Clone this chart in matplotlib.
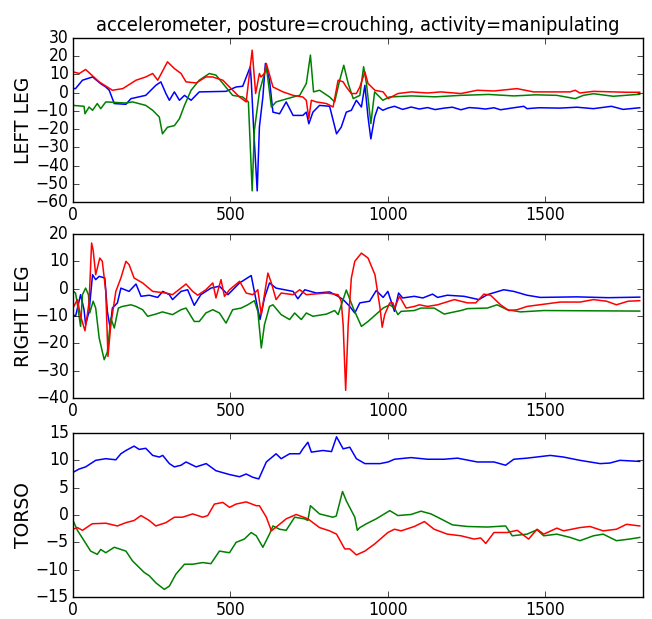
import matplotlib
matplotlib.use("Agg")
import matplotlib.pyplot as plt

# ---- LEFT LEG (x, y points) ----
ll_blue_x = [0, 8, 30, 62, 88, 104, 115, 131, 168, 184, 231, 263, 279, 295, 306, 322, 338, 354, 375, 401,
             486, 518, 539, 563, 566, 574, 585, 592, 603, 611, 624, 635, 656, 677, 699, 730, 741, 749, 762,
             783, 815, 837, 852, 868, 884, 900, 916, 927, 937, 946, 958, 969, 984, 1000, 1021, 1047, 1074,
             1100, 1126, 1150, 1179, 1205, 1232, 1258, 1284, 1310, 1337, 1358, 1400, 1432, 1442, 1480, 1547,
             1600, 1653, 1710, 1747, 1800]
ll_blue_y = [2.2, 2.2, 6.8, 8.6, 4.9, 3.1, 1.3, -6, -6.4, -3.3, -1.5, 4, 5.9, -0.5, -4.2, 0.4, -4.2, -1.5, -4.2, 0.4,
             0.7, 3.1, 3.5, 14.2, 6.8, -20.8, -53.9, -18.8, -2.4, 16, 6.8, -10.7, -11.6, -5.1, -12.5, -12.5, -10.7,
             -17.1, -10.7, -7, -7.5, -22.6, -18.9, -10.7, -9.7, -4.2, -7.9, 4, -13.4, -25.4, -13.4, -7.9, -9.7,
             -8.5, -7.5, -9.2, -7.9, -9.0, -8.2, -9.3, -8.5, -8.0, -9.4, -8.2, -8.5, -9.0, -8.3, -9.4, -8.3, -7.5,
             -8.8, -8.3, -8.5, -8.0, -8.8, -7.5, -9.2, -8.3]
ll_green_x = [0, 35, 38, 51, 62, 77, 88, 104, 168, 189, 231, 253, 274, 284, 300, 322, 338, 354, 375, 401, 433,
              454, 476, 507, 539, 557, 569, 576, 592, 614, 630, 645, 699, 720, 741, 754, 764, 783, 815, 831, 847,
              860, 874, 890, 911, 923, 932, 946, 958, 984, 1005, 1074, 1150, 1232, 1320, 1400, 1470, 1537, 1595,
              1621, 1653, 1716, 1800]
ll_green_y = [-7, -7.5, -11.6, -7.9, -9.7, -6, -8.8, -5.1, -5.7, -5.1, -7, -9.7, -13.4, -22.6, -19, -18.1, -14.3,
              -7, 1.3, 6.8, 10.5, 9.6, 5, -1.5, -2.4, -5.1, -53.9, -20.8, 0.4, 14.2, -7.9, -5.1, -2.4, -1.5, 5,
              20.6, 0.4, 1.3, -2.4, -5.1, 6.8, 15, 5, -3.3, -1.5, 14.2, 5, -17, 0.4, -4.2, -2.4, -1.8, -2.3, -1.5,
              -1.0, -1.8, -1.2, -1.5, -3.3, -1.5, -0.6, -2, -0.9]
ll_red_x = [0, 20, 40, 83, 125, 158, 200, 231, 253, 269, 300, 322, 343, 359, 391, 422, 443, 476, 497, 529, 550,
            569, 580, 592, 597, 608, 614, 635, 667, 699, 730, 741, 749, 757, 773, 805, 826, 842, 858, 868, 884,
            900, 911, 927, 937, 959, 985, 1001, 1032, 1074, 1126, 1168, 1232, 1284, 1337, 1410, 1463, 1579, 1595,
            1610, 1653, 1758, 1800]
ll_red_y = [11.4, 10.5, 12.7, 5.9, 1.3, 2.2, 6.8, 8.6, 10.5, 6.8, 16.9, 13.2, 10.5, 5.9, 5.3, 8.6, 8.6, 6.8, 3.1,
            -2.4, -5.1, 23.3, -0.5, 10.5, 8.6, 10.5, 16, 3.1, 0.4, -1.5, -2.4, -4.2, -14.3, -4.2, -5.1, -6, -7.9,
            6.8, 5.9, 3.1, -0.5, -0.5, 3.1, 11.4, 5, 1.3, 0.4, -3.3, -0.5, 0.4, -0.2, 0.4, -0.5, 1.3, 0.9, 2.2,
            0.4, 0.4, 1.3, -0.2, 0.7, 0.2, 0.2]

# ---- RIGHT LEG ----
rl_blue_x = [0, 8, 24, 35, 40, 51, 62, 72, 83, 101, 109, 118, 125, 141, 152, 178, 200, 216, 242, 269, 285, 306,
             316, 343, 364, 385, 406, 438, 465, 492, 529, 566, 582, 594, 608, 624, 645, 699, 714, 736, 773, 815,
             842, 858, 879, 895, 911, 942, 963, 985, 1000, 1021, 1034, 1047, 1084, 1111, 1142, 1158, 1189, 1242,
             1289, 1316, 1368, 1400, 1442, 1484, 1600, 1700, 1800]
rl_blue_y = [-9.5, -10.1, -2.2, -7.7, -13.2, -8.3, 5.1, 3.3, 4.5, 3.9, -8.3, -14.4, -7.1, -5.2, 0.2, -1.0, 1.7,
             -2.8, -2.4, -3.2, -1, -2.2, -4, -1, -0.4, -6.1, -2.2, 0.2, 0.9, -2.2, 2.1, 4.8, -4.6, -11.3, -3.4,
             2.1, 0.2, -1, -3.7, -0.4, -1.6, -1.2, -2.8, -4.0, -6.5, -8.9, -5.2, -4.6, -0.7, -3.2, -1.0, -8.3,
             -1.6, -3.4, -2.8, -3.4, -2.0, -3.2, -2.4, -2.8, -4.0, -2.2, -0.4, -1.0, -2.4, -3.2, -3.0, -3.3, -3.1]
rl_green_x = [0, 8, 14, 24, 30, 40, 49, 53, 64, 72, 83, 99, 109, 120, 131, 144, 157, 184, 200, 221, 237, 263, 284,
              316, 343, 359, 385, 401, 422, 444, 465, 486, 507, 534, 555, 576, 587, 598, 608, 624, 635, 661, 688,
              704, 725, 741, 762, 805, 831, 842, 868, 890, 916, 937, 985, 1006, 1021, 1032, 1042, 1084, 1105,
              1147, 1179, 1211, 1232, 1253, 1316, 1347, 1379, 1421, 1495, 1800]
rl_green_y = [-0.9, -1.6, -5.9, -13.8, -2.2, 0.2, -2.2, -8.9, -4.6, -7.1, -18, -26, -23.2, -10.7, -14.4, -7.1,
              -6.5, -5.9, -6.5, -7.7, -10.1, -9.3, -8.5, -9.5, -7.7, -7.1, -12, -12, -8.9, -7.7, -8.9, -12.6,
              -7.7, -7.1, -5.9, -4.4, -8.3, -21.7, -13.2, -6.5, -5.9, -9.5, -11.3, -8.9, -11.3, -8.9, -10.1, -9.3,
              -8, -9.5, -0.5, -7.1, -13.8, -12, -7.1, -5.9, -7.1, -9.5, -8.3, -8.0, -7.1, -7.1, -9.3, -8.5, -8.0,
              -7.3, -7.1, -5.9, -7.7, -8.5, -8.0, -8.2]
rl_red_x = [0, 14, 24, 38, 51, 59, 64, 72, 85, 93, 104, 111, 120, 136, 152, 168, 178, 194, 221, 253, 295, 316,
            359, 380, 396, 422, 444, 454, 470, 481, 497, 529, 550, 571, 587, 598, 608, 619, 630, 645, 661, 699,
            720, 741, 805, 842, 852, 858, 866, 874, 884, 895, 916, 937, 959, 975, 982, 990, 1006, 1016, 1021,
            1037, 1058, 1084, 1100, 1126, 1158, 1211, 1253, 1279, 1305, 1326, 1358, 1384, 1411, 1442, 1495,
            1547, 1611, 1653, 1695, 1726, 1763, 1800]
rl_red_y = [-7, -4, -10, -15.4, -5, 16.7, 14, 5.1, 11.2, 10, -1, -24.8, -13.2, -1, 3.9, 10, 8.8, 3.9, 2.1, -1,
            -1.6, -2.2, 1.7, -1, -2.4, -0.4, 2.1, -3.4, 3.3, -2.8, -0.4, 2.7, -1.6, -2.2, -0.4, -9.5, -2.2, 5.7,
            2.1, -4, -1.6, -2.2, -0.4, -2.2, -1.6, -2.2, -4.6, -13.2, -37.2, -13.2, 3.9, 10, 13, 11.2, 5.1, -7,
            -14.1, -9.5, -5.2, -5.2, -7.1, -2.8, -7.1, -6.5, -5.9, -6.5, -5.9, -4.0, -5.2, -5.2, -2.0, -2.4,
            -5.9, -8.0, -7.7, -6.5, -5.7, -4.9, -4.9, -4.0, -4.6, -5.9, -4.6, -4.4]

# ---- TORSO ----
to_blue_x = [0, 19, 40, 72, 104, 136, 152, 168, 194, 210, 231, 253, 274, 285, 306, 322, 343, 359, 391, 423, 454,
             497, 529, 550, 571, 590, 614, 645, 661, 688, 720, 730, 746, 757, 794, 821, 837, 858, 879, 900, 927,
             975, 1001, 1021, 1074, 1126, 1179, 1221, 1284, 1337, 1374, 1400, 1442, 1516, 1558, 1610, 1674, 1705,
             1737, 1800]
to_blue_y = [7.8, 8.4, 8.8, 10.0, 10.3, 10.1, 11.2, 11.8, 12.6, 12.0, 12.2, 10.9, 10.6, 10.9, 9.4, 8.8, 9.1, 9.7,
             8.8, 9.4, 8.1, 7.4, 7.0, 7.5, 6.9, 6.6, 9.7, 11.2, 10.3, 11.2, 11.2, 12.1, 13.3, 11.5, 11.8, 11.6,
             14.3, 12.1, 12.4, 10.3, 9.4, 9.4, 9.7, 10.2, 10.5, 10.2, 10.2, 10.4, 9.7, 9.7, 9.1, 10.2, 10.4, 10.9,
             10.6, 10.0, 9.4, 9.5, 10.0, 9.8]
to_green_x = [0, 14, 35, 56, 77, 88, 104, 131, 168, 189, 226, 242, 263, 290, 306, 327, 354, 380, 412, 438, 465,
              497, 518, 544, 566, 582, 603, 624, 635, 656, 677, 704, 735, 746, 754, 783, 825, 836, 856, 868, 895,
              903, 911, 932, 963, 1006, 1032, 1074, 1105, 1137, 1168, 1205, 1253, 1316, 1374, 1395, 1442, 1474,
              1495, 1537, 1579, 1610, 1653, 1684, 1726, 1768, 1800]
to_green_y = [-1.0, -2.8, -4.7, -6.6, -7.2, -6.3, -6.9, -5.9, -6.6, -8.4, -10.5, -11.1, -12.4, -13.6, -13.0,
              -10.8, -9.0, -9.0, -8.7, -8.9, -6.6, -6.9, -5.0, -4.4, -3.2, -3.8, -5.9, -3.5, -2.0, -2.6, -2.8,
              -0.4, -0.7, -1.0, 1.7, 0.2, -0.4, -0.2, 4.3, 2.6, -0.4, -2.8, -2.3, -1.6, -0.7, 0.8, -0.1, 0.1, 0.7,
              0.2, -0.7, -1.8, -2.1, -2.2, -2.0, -3.8, -3.5, -2.7, -3.8, -3.5, -4.1, -4.7, -3.8, -3.5, -4.7, -4.4,
              -4.1]
to_red_x = [0, 14, 30, 61, 104, 141, 168, 194, 216, 242, 263, 295, 322, 348, 380, 412, 428, 449, 476, 497, 518,
            550, 582, 592, 614, 630, 656, 677, 709, 746, 783, 815, 837, 863, 879, 900, 927, 958, 1000, 1021, 1042,
            1084, 1116, 1147, 1189, 1232, 1274, 1295, 1311, 1337, 1379, 1411, 1447, 1474, 1495, 1537, 1558, 1610,
            1642, 1684, 1726, 1758, 1800]
to_red_y = [-2.6, -2.3, -2.8, -1.6, -1.5, -2.0, -1.4, -1.0, -0.1, -1.0, -2.0, -1.4, -0.4, -0.4, 0.2, -0.4, -0.1,
            2.0, 2.3, 1.4, 2.0, 2.4, 1.7, 1.7, -0.4, -2.9, -1.7, -0.7, 0.1, -0.7, -2.3, -2.9, -3.5, -6.2, -6.2,
            -7.3, -6.6, -5.3, -3.2, -2.6, -2.9, -2.1, -1.2, -2.6, -3.5, -3.8, -4.4, -4.2, -5.2, -3.2, -3.2, -2.8,
            -4.4, -2.6, -3.5, -2.4, -2.9, -2.3, -2.1, -2.9, -2.6, -1.7, -2.0]

panels = [
    ("LEFT LEG", (ll_blue_x, ll_blue_y), (ll_green_x, ll_green_y), (ll_red_x, ll_red_y), (-60, 30), 10),
    ("RIGHT LEG", (rl_blue_x, rl_blue_y), (rl_green_x, rl_green_y), (rl_red_x, rl_red_y), (-40, 20), 10),
    ("TORSO", (to_blue_x, to_blue_y), (to_green_x, to_green_y), (to_red_x, to_red_y), (-15, 15), 5),
]

plt.style.use("classic")
plt.rcParams["font.family"] = "DejaVu Sans"
plt.rcParams["font.stretch"] = "condensed"
plt.rcParams["figure.facecolor"] = "white"

fig = plt.figure(figsize=(6.52, 6.19), dpi=100)
left, width = 0.112, 0.874
bottoms = [0.6737, 0.357, 0.0355]
height = 0.265

for i, (name, b, g, r, ylim, step) in enumerate(panels):
    ax = fig.add_axes([left, bottoms[i], width, height])
    ax.plot(b[0], b[1], color="b", lw=1.1)
    ax.plot(g[0], g[1], color="g", lw=1.1)
    ax.plot(r[0], r[1], color="r", lw=1.1)
    ax.set_xlim(0, 1810)
    ax.set_ylim(*ylim)
    ax.set_yticks(range(ylim[0], ylim[1] + 1, step))
    ax.set_xticks([0, 500, 1000, 1500])
    ax.tick_params(labelsize=12.5, pad=3)
    ax.set_ylabel(name, fontsize=13.5, fontstretch="normal")
    ax.yaxis.set_label_coords(-0.07, 0.5)
    if i == 0:
        ax.set_title("accelerometer, posture=crouching, activity=manipulating", fontsize=14.3)

fig.savefig("out.png", dpi=100)
